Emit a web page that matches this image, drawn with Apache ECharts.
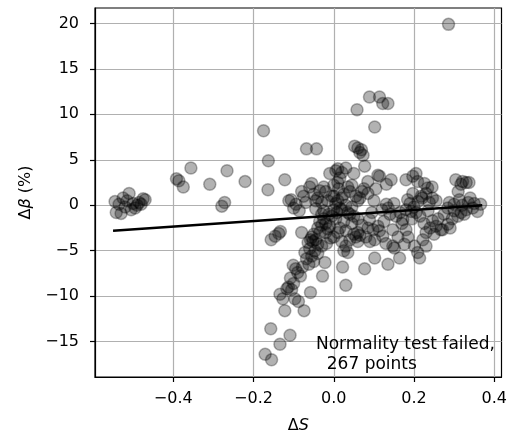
<!DOCTYPE html>
<html>
<head>
<meta charset="utf-8">
<script src="https://cdn.jsdelivr.net/npm/echarts@6/dist/echarts.min.js"></script>
<style>
  html, body { margin: 0; padding: 0; background: #fff; }
  #main { width: 510px; height: 439px; }
</style>
</head>
<body>
<div id="main"></div>
<script>
// 数据：ΔS 与 Δβ (%)
var dS = [
  -0.545,-0.542,-0.535,-0.53,-0.525,-0.52,-0.51,-0.505,-0.50,-0.495,-0.49,-0.485,-0.48,-0.475,-0.47,-0.515,
  -0.392,-0.386,-0.375,-0.356,-0.309,-0.279,-0.272,-0.266,-0.221,
  -0.175,-0.163,-0.164,-0.122,-0.112,-0.106,-0.100,-0.094,-0.086,-0.080,-0.075,-0.070,
  -0.156,-0.146,-0.137,-0.133,
  -0.101,-0.108,-0.117,-0.134,-0.127,-0.105,-0.097,-0.088,-0.122,-0.074,-0.058,-0.109,-0.134,-0.157,-0.171,-0.155,
  -0.083,-0.078,-0.068,-0.055,-0.050,-0.022,-0.028,-0.090,-0.095,-0.113,-0.100,-0.062,-0.040,-0.080,-0.064,-0.072,
  -0.060,-0.047,-0.055,-0.050,-0.045,-0.040,-0.035,-0.030,-0.052,-0.058,
  -0.068,-0.043,
  -0.060,-0.055,-0.050,-0.045,-0.040,-0.035,-0.030,-0.025,-0.020,-0.015,-0.010,-0.005,-0.045,-0.025,
  -0.040,-0.035,-0.030,-0.025,-0.020,-0.015,-0.010,-0.005,-0.020,-0.012,-0.030,-0.008,0.000,-0.018,
  0.005,0.010,0.015,0.020,0.025,0.030,0.035,0.040,0.000,0.010,0.020,0.025,0.035,0.030,0.050,0.055,0.060,0.060,
  0.065,0.070,0.045,0.050,0.060,0.010,0.015,0.005,0.010,0.020,0.030,0.035,0.040,0.045,0.050,0.055,0.060,0.065,
  0.070,0.075,0.000,0.000,0.012,0.025,0.015,0.005,0.040,0.020,0.030,0.022,0.030,0.045,0.008,
  0.089,0.114,0.122,0.135,0.058,0.102,0.052,0.060,0.069,0.073,0.077,0.286,0.065,
  0.085,0.110,0.114,0.131,0.143,0.085,0.100,0.131,0.136,0.089,0.098,0.110,0.114,0.122,0.102,0.077,0.102,0.135,
  0.147,0.151,0.164,0.147,0.155,0.165,0.120,0.095,0.080,0.090,0.125,0.140,0.105,0.150,0.170,0.160,0.130,0.085,
  0.180,0.197,0.205,0.209,0.226,0.234,0.230,0.218,0.197,0.184,0.180,0.193,0.205,0.172,0.180,0.176,0.201,0.209,
  0.214,0.222,0.230,0.246,0.255,0.267,0.238,0.246,0.190,0.200,0.210,0.215,0.225,0.240,0.250,0.260,0.235,0.220,
  0.195,0.185,0.245,0.255,0.230,
  0.304,0.317,0.321,0.330,0.337,0.288,0.284,0.300,0.313,0.320,0.330,0.317,0.309,0.325,0.346,0.358,0.366,0.284,
  0.271,0.295,0.335,0.340,0.310,0.300,0.275,0.350,0.290
];
var dBeta = [
  0.4,-0.8,0.1,-0.9,0.8,-0.2,1.3,-0.5,0.2,-0.3,0.0,0.3,0.1,0.7,0.6,0.5,
  2.9,2.7,2.0,4.1,2.3,-0.1,0.3,3.8,2.6,
  8.2,4.9,1.7,2.8,0.5,0.6,-0.3,0.1,-0.6,1.5,1.0,0.3,
  -3.8,-3.4,-3.1,-2.9,
  -6.6,-8.0,-9.2,-9.8,-10.3,-9.3,-10.3,-10.6,-11.6,-11.6,-9.6,-14.3,-15.3,-13.6,-16.4,-17.0,
  -7.8,-6.8,-5.9,-5.6,-6.2,-6.3,-7.8,-7.4,-7.0,-9.0,-8.6,-6.5,-5.3,-3.0,-4.1,-5.2,
  -4.8,-5.0,-3.5,-3.2,-3.8,-4.3,-3.0,-4.5,-4.0,-3.8,
  6.2,6.2,
  2.0,2.4,1.2,0.5,0.8,1.6,0.3,2.0,1.5,0.5,3.5,1.0,-0.4,-0.6,
  -2.5,-1.8,-2.2,-1.5,-2.0,-2.6,-2.3,-1.2,-3.0,-1.0,-1.0,-3.6,-0.5,-4.2,
  0.2,0.5,-0.3,0.8,1.2,0.0,-0.8,-1.0,-3.5,-3.0,-4.0,-5.0,-5.2,-4.5,-3.2,-3.5,-3.0,-4.0,
  -3.3,-2.2,-2.0,-1.2,-1.5,2.5,3.0,3.8,4.0,3.6,4.1,2.0,1.5,2.2,3.5,1.0,0.5,0.8,
  1.5,1.8,1.0,2.2,1.8,-1.8,-2.5,-1.5,-3.8,-0.5,-2.8,-6.8,-8.8,-0.2,-0.8,
  11.9,11.9,11.2,11.2,10.5,8.6,6.5,6.3,6.1,5.5,4.3,19.9,5.8,
  2.6,3.3,3.2,2.3,2.8,1.3,0.5,0.1,-0.3,-1.6,-2.7,-2.3,-2.8,-3.4,-3.8,-7.0,-5.8,-6.5,
  -4.5,-4.7,-5.8,-2.7,-1.2,-0.8,-0.5,-0.8,-3.5,-4.0,-1.8,-1.0,1.8,0.2,-2.0,-3.5,-4.2,-2.5,
  2.8,3.2,3.5,2.6,2.4,1.9,1.3,1.0,1.3,0.6,-0.5,-0.7,-0.8,-1.6,-2.7,-4.3,-4.5,-5.2,
  -5.8,-3.8,-3.0,-1.7,-2.3,-2.7,0.3,0.8,0.2,-0.2,0.4,-1.2,-2.0,-2.5,-3.2,-1.5,-0.6,0.8,
  -1.5,-3.5,2.0,0.5,-4.5,
  2.8,2.3,2.6,2.5,2.5,0.3,-0.3,0.1,0.6,0.0,-0.5,-0.8,-1.2,-1.0,-0.3,-0.7,0.1,-2.1,
  -2.7,-1.5,0.3,0.8,1.5,-0.6,-1.0,0.2,-2.5
];
// 拟合线
var lineX = [-0.55, 0.37];
var lineY = [-2.8, 0.0];
// 刻度
var xTicks = [-0.4, -0.2, 0.0, 0.2, 0.4];
var yTicks = [-15, -10, -5, 0, 5, 10, 15, 20];

var chart = echarts.init(document.getElementById('main'));

var points = [];
for (var i = 0; i < dS.length; i++) {
  points.push([dS[i], dBeta[i]]);
}
var linePts = [];
for (var j = 0; j < lineX.length; j++) {
  linePts.push([lineX[j], lineY[j]]);
}

function minus(s) {
  return String(s).replace('-', '\u2212');
}

var font = 'DejaVu Sans';
var option = {
  animation: false,
  backgroundColor: '#fff',
  grid: { left: 95, right: 8, top: 8, bottom: 61, show: true, borderColor: '#000', borderWidth: 1.2, backgroundColor: 'transparent' },
  xAxis: {
    type: 'value',
    min: -0.595,
    max: 0.418,
    name: '{a|\u0394}{b|S}',
    nameLocation: 'middle',
    nameGap: 41,
    nameTextStyle: {
      rich: {
        a: { fontFamily: font, fontSize: 16, color: '#000' },
        b: { fontFamily: font, fontSize: 16, fontStyle: 'italic', color: '#000' }
      }
    },
    axisLine: { show: true, onZero: false, lineStyle: { color: '#000', width: 1.2 } },
    axisTick: { show: true, inside: false, length: 5, customValues: xTicks, lineStyle: { color: '#000', width: 1.2 } },
    axisLabel: {
      customValues: xTicks, margin: 14, color: '#000', fontFamily: font, fontSize: 16,
      formatter: function (v) { return minus(v.toFixed(1)); }
    },
    splitLine: { show: true, lineStyle: { color: '#b0b0b0', width: 1.2 } }
  },
  yAxis: {
    type: 'value',
    min: -18.9,
    max: 21.7,
    name: '{a|\u0394}{b|\u03b2}{a| (%)}',
    nameLocation: 'middle',
    nameGap: 58,
    nameRotate: 90,
    nameTextStyle: {
      rich: {
        a: { fontFamily: font, fontSize: 16, color: '#000' },
        b: { fontFamily: font, fontSize: 16, fontStyle: 'italic', color: '#000' }
      }
    },
    axisLine: { show: true, onZero: false, lineStyle: { color: '#000', width: 1.2 } },
    axisTick: { show: true, inside: false, length: 5, customValues: yTicks, lineStyle: { color: '#000', width: 1.2 } },
    axisLabel: {
      customValues: yTicks, margin: 16, color: '#000', fontFamily: font, fontSize: 16,
      formatter: function (v) { return minus(v); }
    },
    splitLine: { show: true, lineStyle: { color: '#b0b0b0', width: 1.2 } }
  },
  graphic: [{
    type: 'text',
    left: 316,
    top: 335,
    style: {
      text: 'Normality test failed,\n  267 points',
      fontFamily: font,
      fontSize: 17,
      lineHeight: 20,
      fill: '#000'
    },
    z: 10
  }],
  series: [{
    type: 'scatter',
    data: points,
    symbolSize: 12,
    itemStyle: { color: 'rgba(0,0,0,0.3)', borderColor: 'rgba(0,0,0,0.3)', borderWidth: 1.5, opacity: 1 },
    z: 3
  }, {
    type: 'line',
    data: linePts,
    symbol: 'none',
    lineStyle: { color: '#000', width: 2.5 },
    z: 4
  }]
};
chart.setOption(option);
</script>
</body>
</html>
